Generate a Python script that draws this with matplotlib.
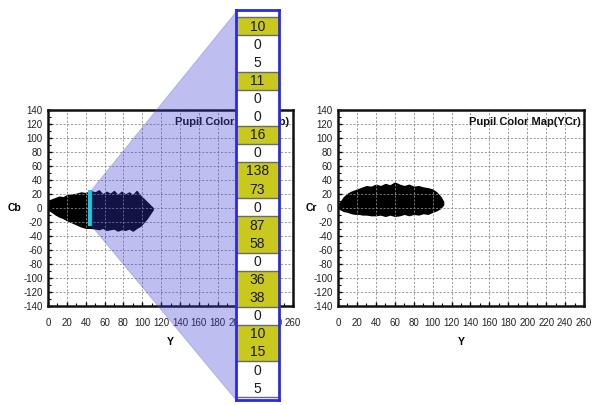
import matplotlib
matplotlib.use('Agg')
import matplotlib.pyplot as plt
import numpy as np
from matplotlib.patches import Polygon
import matplotlib.ticker as mtick

# Pupil cloud envelopes (Y vs Cb, Y vs Cr)
y_cb = [0, 4, 8, 12, 16, 20, 25, 30, 35, 40, 45, 50, 54, 58, 62, 66, 70, 74, 78, 82, 86, 90, 94, 98, 102, 105, 108, 111]
cb_top = [10, 12, 14, 16, 15, 18, 19, 20, 22, 21, 24, 22, 25, 19, 23, 20, 24, 18, 23, 19, 22, 18, 24, 17, 12, 8, 4, 0]
cb_bot = [-2, -5, -9, -12, -14, -17, -20, -23, -26, -28, -28, -29, -30, -28, -31, -30, -29, -32, -30, -31, -29, -32, -28, -25, -19, -14, -8, -2]

y_cr = [0, 3, 6, 10, 14, 18, 22, 26, 30, 35, 40, 45, 50, 55, 60, 65, 70, 75, 80, 85, 90, 95, 100, 104, 108, 111]
cr_top = [3, 9, 15, 20, 23, 25, 27, 29, 31, 30, 33, 31, 34, 32, 36, 33, 31, 33, 30, 31, 29, 28, 26, 22, 16, 9]
cr_bot = [1, -2, -4, -5, -7, -8, -8, -9, -9, -10, -10, -9, -11, -9, -11, -10, -8, -10, -8, -9, -7, -8, -5, -3, 0, 5]

# selected slice of the Cb cloud
cut_y = 45
cut_cb = [-26, 26]

# zoomed column of counts
cell_values = ['10', '0', '5', '11', '0', '0', '16', '0', '138', '73', '0',
               '87', '58', '0', '36', '38', '0', '10', '15', '0', '5']
cell_marked = [1, 0, 0, 1, 0, 0, 1, 0, 1, 1, 0, 1, 1, 0, 1, 1, 0, 1, 1, 0, 0]

plt.rcParams['axes.unicode_minus'] = False

W, H = 599, 405
fig = plt.figure(figsize=(W / 100, H / 100), dpi=100)

font = ['Liberation Sans', 'DejaVu Sans']


def setup_axes(rect, ylab, ylab_x, title, env_x, env_top, env_bot):
    ax = fig.add_axes(rect)
    ax.set_xlim(0, 260)
    ax.set_ylim(-140, 140)
    ax.xaxis.set_major_locator(mtick.MultipleLocator(20))
    ax.xaxis.set_minor_locator(mtick.MultipleLocator(10))
    ax.yaxis.set_major_locator(mtick.MultipleLocator(20))
    ax.yaxis.set_minor_locator(mtick.MultipleLocator(10))
    ax.tick_params(which='major', direction='in', length=3, width=1, labelsize=7)
    ax.tick_params(which='minor', direction='in', length=2, width=0.8)
    ax.tick_params(axis='x', pad=8.5)
    ax.tick_params(axis='y', pad=4)
    for lab in ax.get_xticklabels() + ax.get_yticklabels():
        lab.set_family(font)
        lab.set_color('#222222')
    ax.grid(True, which='major', linestyle=(0, (2.5, 2)), color='#8a8a8a', linewidth=0.6)
    for sp in ax.spines.values():
        sp.set_linewidth(1.8)
        sp.set_color('#111111')
    ax.fill_between(env_x, env_bot, env_top, color='black', linewidth=1.2, edgecolor='black')
    ax.set_ylabel(ylab, rotation=0, fontsize=7.5, fontweight='bold', family=font, va='center', ha='center')
    ax.yaxis.set_label_coords(ylab_x, 0.5)
    ax.set_xlabel('Y', fontsize=7.5, fontweight='bold', family=font)
    ax.xaxis.set_label_coords(0.5, -0.158)
    ax.text(0.985, 0.94, title, transform=ax.transAxes, ha='right', va='center',
            fontsize=8, fontweight='bold', family=font, color='#111111')
    return ax


ax1 = setup_axes([48 / W, 1 - 306 / H, 245 / W, 196 / H], 'Cb', -0.135,
                 'Pupil Color Map(YCb)', y_cb, cb_top, cb_bot)
ax2 = setup_axes([338 / W, 1 - 306 / H, 246 / W, 196 / H], 'Cr', -0.11,
                 'Pupil Color Map(YCr)', y_cr, cr_top, cr_bot)

# cyan slice marker
ax1.plot([cut_y, cut_y], cut_cb, color='#1ec8e0', linewidth=3, solid_capstyle='butt', zorder=4)

# column axes position (figure pixels)
col_left, col_right, col_top, col_bot = 236, 279, 10, 400

# translucent wedge from the slice to the column
to_fig = fig.transFigure.inverted()
p_top = to_fig.transform(ax1.transData.transform((cut_y + 1.5, cut_cb[1])))
p_bot = to_fig.transform(ax1.transData.transform((cut_y + 1.5, cut_cb[0])))
wedge = Polygon([p_top, (col_left / W, 1 - (col_top + 2) / H),
                 (col_left / W, 1 - col_bot / H), p_bot],
                closed=True, transform=fig.transFigure, facecolor=(60 / 255, 60 / 255, 215 / 255),
                alpha=0.33, edgecolor='#6868c8', linewidth=0.7, zorder=5)
fig.add_artist(wedge)

# the column of counts
axc = fig.add_axes([col_left / W, 1 - col_bot / H, (col_right - col_left) / W, (col_bot - col_top) / H],
                   zorder=10)
n = len(cell_values)
axc.set_xlim(0, 1)
axc.set_ylim(n + 0.15, -0.4)
axc.set_facecolor('white')
for i, (v, m) in enumerate(zip(cell_values, cell_marked)):
    if m:
        axc.axhspan(i, i + 1, color='#c8c81e', linewidth=0)
    axc.text(0.5, i + 0.52, v, ha='center', va='center', fontsize=10, family=font, color='#1a1a1a')
# block separators where the highlight changes
for i in range(1, n):
    if cell_marked[i] != cell_marked[i - 1]:
        axc.axhline(i, color='#6a6a6a', linewidth=1)
axc.axhline(0, color='#6a6a6a', linewidth=1)
axc.axhline(n, color='#6a6a6a', linewidth=1)
axc.set_xticks([])
axc.set_yticks([])
for sp in axc.spines.values():
    sp.set_color('#2a2ae6')
    sp.set_linewidth(2)

fig.savefig('out.png', dpi=100)
